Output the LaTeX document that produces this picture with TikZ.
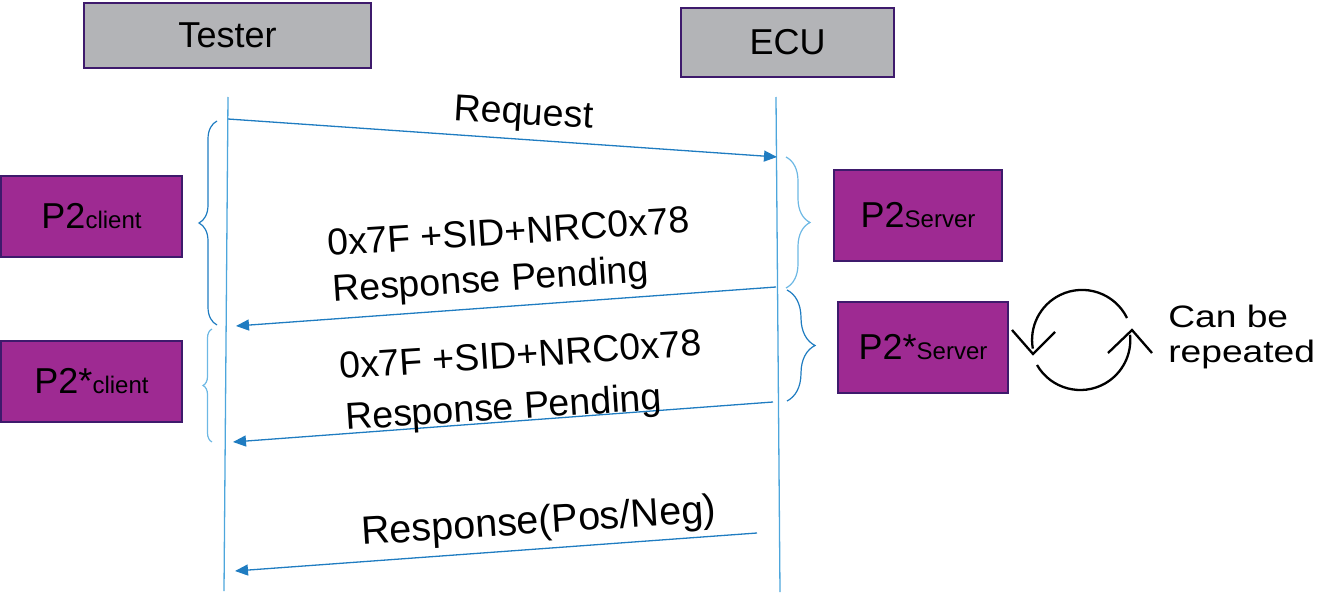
\documentclass[tikz,border=0pt]{standalone}
\usepackage{fontspec}
\setmainfont{Liberation Sans}
\usetikzlibrary{arrows.meta,decorations.pathreplacing}
\definecolor{boxgray}{HTML}{B3B4B7}
\definecolor{boxedge}{HTML}{3E1A6C}
\definecolor{boxpurple}{HTML}{9E2A92}
\definecolor{lineblue}{HTML}{1F7CC1}
\definecolor{lightblue}{HTML}{6DB8E4}
\definecolor{lifeblue}{HTML}{4DA6DC}
\tikzset{
  headbox/.style={draw=boxedge, fill=boxgray, line width=2pt, inner sep=0pt,
    font=\fontsize{36}{40}\selectfont},
  timebox/.style={draw=boxedge, fill=boxpurple, line width=2pt, inner sep=0pt,
    font=\fontsize{36}{40}\selectfont},
  lifeline/.style={draw=lifeblue, line width=1.3pt},
  msg/.style={draw=lineblue, line width=1.3pt, -{Triangle[length=13pt,width=11pt]}},
  msglabel/.style={inner sep=0pt, font=\fontsize{37.5}{44}\selectfont},
  bracedark/.style={draw=lineblue, line width=1.2pt, decorate},
  bracelight/.style={draw=lightblue, line width=1.2pt, decorate},
  cycline/.style={draw=black, line width=2.3pt},
  notelabel/.style={inner sep=0pt, xscale=1.2, font=\fontsize{31}{36}\selectfont}
}
\newcommand{\smalltxt}[1]{{\fontsize{24}{28}\selectfont #1}}
\begin{document}
\begin{tikzpicture}[x=1pt,y=-1pt]
\useasboundingbox (0,0) rectangle (1342,594);

% header boxes
\node[headbox, minimum width=287pt, minimum height=65pt] (tester) at (227.5,35.5) {Tester};
\node[headbox, minimum width=213pt, minimum height=69pt] (ecu) at (787.5,42.5) {ECU};

% lifelines
\coordinate (tt) at (228,97);
\coordinate (tb) at (224,591);
\coordinate (et) at (776,97);
\coordinate (eb) at (780,592);
\draw[lifeline] (tt) -- (tb);
\draw[lifeline] (et) -- (eb);

% messages
\coordinate (m1s) at (228,119);
\coordinate (m1e) at (777,157);
\coordinate (m2s) at (776,287);
\coordinate (m2e) at (236,326);
\coordinate (m3s) at (773,402);
\coordinate (m3e) at (233,442);
\coordinate (m4s) at (757,533);
\coordinate (m4e) at (235,571);
\draw[msg] (m1s) -- (m1e);
\draw[msg] (m2s) -- (m2e);
\draw[msg] (m3s) -- (m3e);
\draw[msg] (m4s) -- (m4e);

% message labels
\node[msglabel, anchor=base west, rotate=-3.5] (l1) at (453,120) {Request};
\node[msglabel, anchor=base west, rotate=3.7] (l2a) at (328,256) {0x7F +SID+NRC0x78};
\node[msglabel, anchor=base west, rotate=3.7] (l2b) at (333,302) {Response Pending};
\node[msglabel, anchor=base west, rotate=3.7] (l3a) at (340,379) {0x7F +SID+NRC0x78};
\node[msglabel, anchor=base west, rotate=3.7] (l3b) at (346,430) {Response Pending};
\node[msglabel, anchor=base west, rotate=3.7, font=\fontsize{39.5}{44}\selectfont] (l4) at (362,545) {Response(Pos/Neg)};

% braces
\draw[bracedark, decoration={brace, amplitude=18pt, aspect=0.5}] (217,325) -- (217,121);
\draw[bracelight, decoration={brace, amplitude=9pt, aspect=0.5}] (212,442) -- (212,329);
\draw[bracelight, decoration={brace, amplitude=24pt, aspect=0.5}] (786,157) -- (786,288);
\draw[bracedark, decoration={brace, amplitude=28pt, aspect=0.5}] (787,290) -- (787,401);

% timing boxes
\node[timebox, minimum width=181pt, minimum height=81pt] (p2c) at (91.5,216) {P2\smalltxt{client}};
\node[timebox, minimum width=181pt, minimum height=81pt] (p2sc) at (91.5,381.5) {P2*\smalltxt{client}};
\node[timebox, minimum width=168pt, minimum height=91pt] (p2s) at (918,215) {P2\smalltxt{Server}};
\node[timebox, minimum width=170pt, minimum height=91pt] (p2ss) at (923,347) {P2*\smalltxt{Server}};

% repeat cycle
\coordinate (cyc) at (1082,340);
\draw[cycline] (1127,318) arc[start angle=-26, end angle=-190, radius=50];
\draw[cycline] (1012,330) -- (1033,354) -- (1055,332);
\draw[cycline] (1037,365) arc[start angle=-210, end angle=-366, radius=50];
\draw[cycline] (1108,353) -- (1132,330) -- (1152,353);
\node[notelabel, anchor=base west] (n1) at (1168,327) {Can be};
\node[notelabel, anchor=base west] (n2) at (1168,362) {repeated};
\end{tikzpicture}
\end{document}
